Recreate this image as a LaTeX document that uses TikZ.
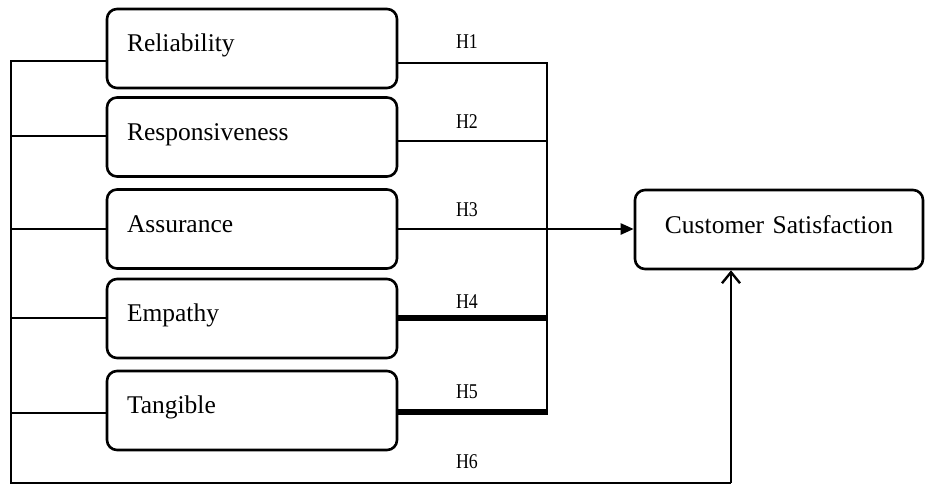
\documentclass[tikz,border=0pt]{standalone}
\usepackage{fontspec}
\setmainfont{Liberation Serif}
\usetikzlibrary{arrows.meta,calc}
\begin{document}
\begin{tikzpicture}[x=1pt,y=-1pt,
  dim/.style={draw,rounded corners=10pt,line width=2.6pt,inner xsep=20pt,inner ysep=0pt,
    text width=250pt,align=left,minimum height=79pt,text height=15pt,text depth=9pt,
    font=\fontsize{25.5}{30}\selectfont},
  outbox/.style={draw,rounded corners=10pt,line width=2.6pt,inner sep=0pt,
    text width=288pt,align=center,minimum height=79pt,text height=16pt,text depth=9pt,
    font=\fontsize{25.5}{30}\selectfont},
  hyp/.style={font=\fontsize{21}{24}\selectfont,xscale=0.85,inner sep=0pt},
  wire/.style={line width=2.4pt},
  thickwire/.style={line width=5.5pt}]
\useasboundingbox (0,0) rectangle (925,484);
\node[dim] (rel) at (252,48.5) {Reliability};
\node[dim] (res) at (252,137) {Responsiveness};
\node[dim] (ass) at (252,229) {Assurance};
\node[dim] (emp) at (252,318.5) {Empathy};
\node[dim] (tan) at (252,410.5) {Tangible};
\node[outbox] (cs) at (779,229.5) {Customer Satisfaction};
% hypothesis labels
\node[hyp] (h1) at (467,42) {H1};
\node[hyp] (h2) at (467,122) {H2};
\node[hyp] (h3) at (467,210) {H3};
\node[hyp] (h4) at (467,302) {H4};
\node[hyp] (h5) at (467,392) {H5};
\node[hyp] (h6) at (467,462) {H6};
% left trunk junctions
\coordinate (L1) at (11,61);
\coordinate (L2) at (11,136);
\coordinate (L3) at (11,229);
\coordinate (L4) at (11,318);
\coordinate (L5) at (11,413);
\coordinate (LB) at (11,483);
\coordinate (B) at (731,483);
% right trunk junctions
\coordinate (R1) at (547,63);
\coordinate (R2) at (547,141);
\coordinate (R4) at (547,318);
\coordinate (R5) at (547,412);
% left connectors
\draw[wire] (L1 -| rel.west) -- (L1) -- (LB) -- (B);
\draw[wire,-{Straight Barb[length=11pt,width=18pt,line width=2.4pt]}] (B) -- (B |- cs.south);
\draw[wire] (L2) -- (L2 -| res.west);
\draw[wire] (L3) -- (L3 -| ass.west);
\draw[wire] (L4) -- (L4 -| emp.west);
\draw[wire] (L5) -- (L5 -| tan.west);
% right connectors
\draw[wire] (R1 -| rel.east) -- (R1) -- (R5);
\draw[wire] (R2 -| res.east) -- (R2);
\draw[thickwire] (R4 -| emp.east) -- (R4);
\draw[thickwire] (R5 -| tan.east) -- ([xshift=1.2pt]R5);
\draw[wire,-{Triangle[length=13pt,width=11pt]}] (ass.east) -- (ass.east -| cs.west);
\end{tikzpicture}
\end{document}
